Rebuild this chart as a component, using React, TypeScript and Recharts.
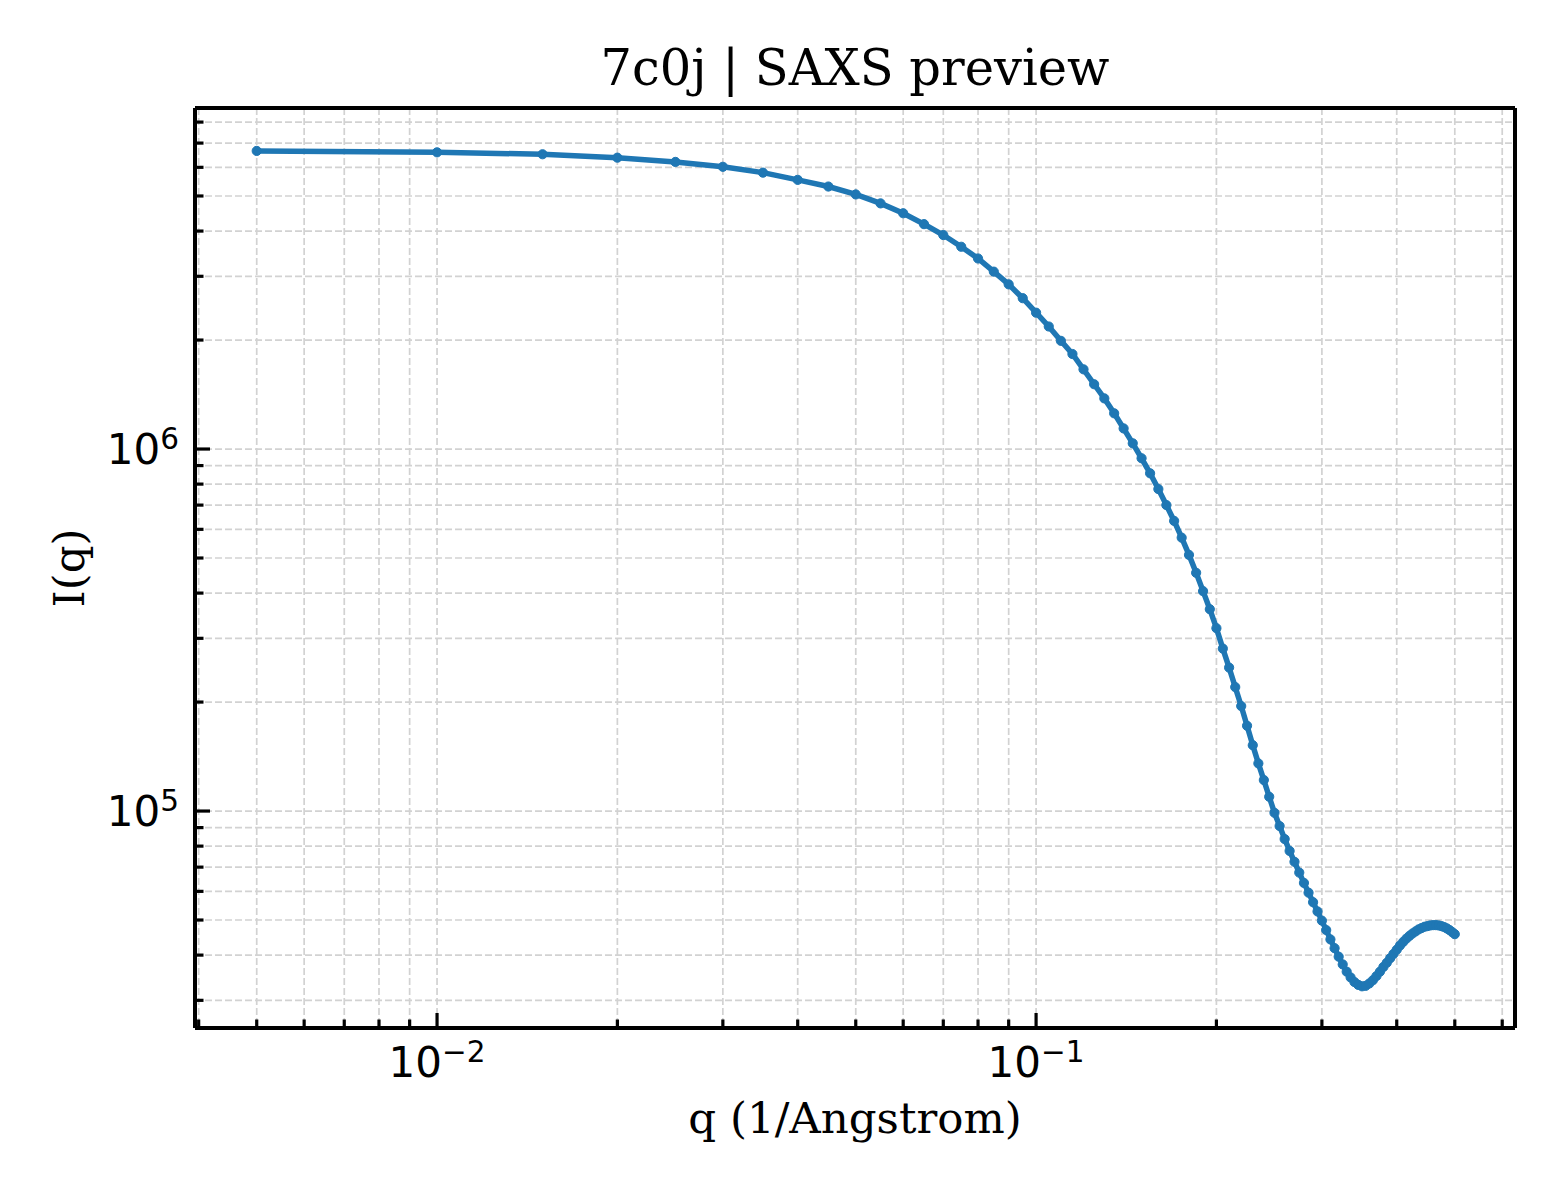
import React from "react";
import { LineChart, Line, XAxis, YAxis, CartesianGrid, ReferenceLine } from "recharts";

// scattering vector q (1/Angstrom)
const Q = [
  0.005, 0.01, 0.015, 0.02, 0.025, 0.03, 0.035, 0.04, 0.045, 0.05,
  0.055, 0.06, 0.065, 0.07, 0.075, 0.08, 0.085, 0.09, 0.095, 0.1,
  0.105, 0.11, 0.115, 0.12, 0.125, 0.13, 0.135, 0.14, 0.145, 0.15,
  0.155, 0.16, 0.165, 0.17, 0.175, 0.18, 0.185, 0.19, 0.195, 0.2,
  0.205, 0.21, 0.215, 0.22, 0.225, 0.23, 0.235, 0.24, 0.245, 0.25,
  0.255, 0.26, 0.265, 0.27, 0.275, 0.28, 0.285, 0.29, 0.295, 0.3,
  0.305, 0.31, 0.315, 0.32, 0.325, 0.33, 0.335, 0.34, 0.345, 0.35,
  0.355, 0.36, 0.365, 0.37, 0.375, 0.38, 0.385, 0.39, 0.395, 0.4,
  0.405, 0.41, 0.415, 0.42, 0.425, 0.43, 0.435, 0.44, 0.445, 0.45,
  0.455, 0.46, 0.465, 0.47, 0.475, 0.48, 0.485, 0.49, 0.495, 0.5,
];

// intensity I(q)
const INTENSITY = [
  6.66e6, 6.6e6, 6.52e6, 6.38e6, 6.21e6, 6.02e6, 5.8e6, 5.54e6, 5.31e6, 5.05e6,
  4.77e6, 4.48e6, 4.18e6, 3.9e6, 3.62e6, 3.36e6, 3.09e6, 2.85e6, 2.61e6, 2.38e6,
  2.18e6, 1.99e6, 1.83e6, 1.66e6, 1.51e6, 1.38e6, 1.255e6, 1.14e6, 1.037e6, 9.43e5,
  8.57e5, 7.75e5, 7.0e5, 6.33e5, 5.69e5, 5.1e5, 4.55e5, 4.05e5, 3.61e5, 3.2e5,
  2.81e5, 2.49e5, 2.2e5, 1.95e5, 1.72e5, 1.52e5, 1.354e5, 1.218e5, 1.095e5, 9.89e4,
  9.09e4, 8.37e4, 7.76e4, 7.24e4, 6.76e4, 6.33e4, 5.95e4, 5.6e4, 5.28e4, 4.98e4,
  4.69e4, 4.42e4, 4.18e4, 3.96e4, 3.77e4, 3.6e4, 3.47e4, 3.37e4, 3.31e4, 3.28e4,
  3.29e4, 3.34e4, 3.41e4, 3.5e4, 3.6e4, 3.71e4, 3.81e4, 3.92e4, 4.03e4, 4.14e4,
  4.25e4, 4.35e4, 4.44e4, 4.52e4, 4.59e4, 4.65e4, 4.71e4, 4.75e4, 4.79e4, 4.81e4,
  4.83e4, 4.84e4, 4.84e4, 4.83e4, 4.81e4, 4.78e4, 4.74e4, 4.69e4, 4.63e4, 4.57e4,
];

const X_DOMAIN = [0.003944, 0.6302];
const Y_DOMAIN = [2.516e4, 8.75e6];

const X_MAJOR = [0.01, 0.1];
const X_MAJOR_EXP = ["\u22122", "\u22121"];
const X_MINOR = [
  0.004, 0.005, 0.006, 0.007, 0.008, 0.009,
  0.02, 0.03, 0.04, 0.05, 0.06, 0.07, 0.08, 0.09,
  0.2, 0.3, 0.4, 0.5, 0.6,
];

const Y_MAJOR = [1e5, 1e6];
const Y_MAJOR_EXP = ["5", "6"];
const Y_MINOR = [
  3e4, 4e4, 5e4, 6e4, 7e4, 8e4, 9e4,
  2e5, 3e5, 4e5, 5e5, 6e5, 7e5, 8e5, 9e5,
  2e6, 3e6, 4e6, 5e6, 6e6, 7e6, 8e6,
];

const TITLE = "7c0j | SAXS preview";
const X_LABEL = "q (1/Angstrom)";
const Y_LABEL = "I(q)";

const rows = Q.map((q, i) => ({ q, I: INTENSITY[i] }));
const xTicks = [...X_MAJOR, ...X_MINOR].sort((a, b) => a - b);
const yTicks = [...Y_MAJOR, ...Y_MINOR].sort((a, b) => a - b);

const SERIF = "'DejaVu Serif', serif";
const SANS = "'DejaVu Sans', sans-serif";
const BLUE = "#1f77b4";
const SPINE = 4;

function XTick(props: any) {
  const { x, y, payload } = props;
  const idx = X_MAJOR.indexOf(payload.value);
  const major = idx >= 0;
  return (
    <g>
      <line x1={x} x2={x} y1={y} y2={y - (major ? 15 : 8.5)} stroke="#000" strokeWidth={3.2} />
      {major && (
        <text x={x} y={y + 49} textAnchor="middle" fontFamily={SANS} fontSize={42} fill="#000">
          10
          <tspan dy={-15} fontSize={29.5}>
            {X_MAJOR_EXP[idx]}
          </tspan>
        </text>
      )}
    </g>
  );
}

function YTick(props: any) {
  const { x, y, payload } = props;
  const idx = Y_MAJOR.indexOf(payload.value);
  const major = idx >= 0;
  return (
    <g>
      <line x1={x} x2={x + (major ? 15 : 8.5)} y1={y} y2={y} stroke="#000" strokeWidth={3.2} />
      {major && (
        <text x={x - 16} y={y + 15} textAnchor="end" fontFamily={SANS} fontSize={42} fill="#000">
          10
          <tspan dy={-15} fontSize={29.5}>
            {Y_MAJOR_EXP[idx]}
          </tspan>
        </text>
      )}
    </g>
  );
}

export default function App() {
  return (
    <div style={{ position: "absolute", left: 0, top: 0, width: 1560, height: 1200, background: "#fff" }}>
      <LineChart width={1560} height={1200} data={rows} margin={{ top: 108, right: 45, bottom: 0, left: 0 }}>
        <CartesianGrid stroke="#d2d2d2" strokeDasharray="7 3" strokeWidth={1.7} />
        <XAxis
          dataKey="q"
          type="number"
          scale="log"
          domain={X_DOMAIN}
          ticks={xTicks}
          interval={0}
          allowDataOverflow
          height={172}
          tickSize={0}
          tickMargin={0}
          tickLine={false}
          tick={<XTick />}
          axisLine={{ stroke: "#000", strokeWidth: SPINE }}
        />
        <YAxis
          type="number"
          scale="log"
          domain={Y_DOMAIN}
          ticks={yTicks}
          interval={0}
          allowDataOverflow
          width={195}
          tickSize={0}
          tickMargin={0}
          tickLine={false}
          tick={<YTick />}
          axisLine={{ stroke: "#000", strokeWidth: SPINE }}
        />
        <ReferenceLine y={Y_DOMAIN[1]} stroke="#000" strokeWidth={SPINE} />
        <ReferenceLine x={X_DOMAIN[1]} stroke="#000" strokeWidth={SPINE} />
        <Line
          dataKey="I"
          type="linear"
          stroke={BLUE}
          strokeWidth={5.5}
          dot={{ r: 4.6, fill: BLUE, stroke: BLUE, strokeWidth: 1 }}
          isAnimationActive={false}
        />
      </LineChart>
      <svg
        width={1560}
        height={1200}
        style={{ position: "absolute", left: 0, top: 0, pointerEvents: "none" }}
      >
        <text x={855} y={84.5} textAnchor="middle" fontFamily={SERIF} fontSize={49.5} fill="#000">
          {TITLE}
        </text>
        <text x={855} y={1133} textAnchor="middle" fontFamily={SERIF} fontSize={43.5} fill="#000">
          {X_LABEL}
        </text>
        <text
          transform="translate(84,568) rotate(-90)"
          textAnchor="middle"
          fontFamily={SERIF}
          fontSize={43.5}
          fill="#000"
        >
          {Y_LABEL}
        </text>
      </svg>
    </div>
  );
}
